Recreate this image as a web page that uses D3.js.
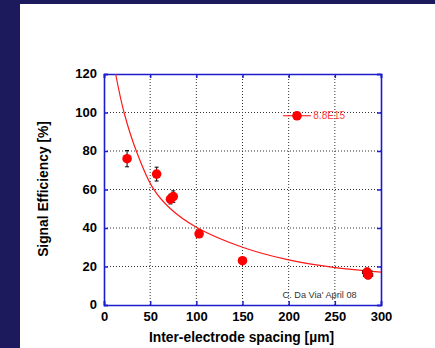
<!DOCTYPE html>
<html><head><meta charset="utf-8">
<script src="https://cdn.jsdelivr.net/npm/d3@7"></script>
<style>html,body{margin:0;padding:0;background:#1c1a5c;}svg{display:block;}</style>
</head><body>
<script>
// ---- data ----
const spacing    = [25, 57, 72, 75, 103, 150, 285, 286];
const efficiency = [76, 68, 55, 56.3, 37, 23, 17.1, 15.6];
const errY       = [4.2, 3.6, 2.5, 3, 1, 1, 2, 2];
const errX       = [0, 0, 0, 0, 0, 0, 5, 5];
const fitX = [12.6, 21.7, 35, 52.7, 72, 100, 150, 200, 250, 300];
const fitY = [120, 100, 80, 61, 50, 40.4, 30, 23.4, 19.4, 17.1];
const xTicks = [0, 50, 100, 150, 200, 250, 300];
const yTicks = [0, 20, 40, 60, 80, 100, 120];
const legendX = 209, legendY = 98.3, legendErrX = 15, legendLabel = "8.8E15";
const xTitle = "Inter-electrode spacing [\u00B5m]";
const yTitle = "Signal Efficiency [%]";
const credit = "C. Da Via' April 08";

const W = 435, H = 348;
const svg = d3.select("body").append("svg").attr("width", W).attr("height", H);
svg.append("rect").attr("width", W).attr("height", H).attr("fill", "#1c1a5c");
svg.append("rect").attr("x", 20).attr("y", 4).attr("width", W - 20).attr("height", H - 4).attr("fill", "#ffffff");

const x = d3.scaleLinear().domain([0, 300]).range([104, 381]);
const y = d3.scaleLinear().domain([0, 120]).range([305, 74]);
const font = "'Liberation Sans', Arial, sans-serif";
const blue = "#1c1ccc";

// grid
const grid = svg.append("g");
grid.selectAll(".gx").data(xTicks.slice(1, -1)).join("line")
  .attr("x1", d => x(d)).attr("x2", d => x(d)).attr("y1", y(0)).attr("y2", y(120))
  .attr("stroke", "#333").attr("stroke-width", 1).attr("stroke-dasharray", "1,2");
grid.selectAll(".gy").data(yTicks.slice(1, -1)).join("line")
  .attr("y1", d => y(d)).attr("y2", d => y(d)).attr("x1", x(0)).attr("x2", x(300))
  .attr("stroke", "#333").attr("stroke-width", 1).attr("stroke-dasharray", "1,2");

// axes (ticks inward)
const tl = 4;
const axB = svg.append("g").attr("transform", `translate(0,${y(0)})`)
  .call(d3.axisBottom(x).tickValues(xTicks).tickSize(-tl).tickPadding(6).tickFormat(d3.format("d")));
const axT = svg.append("g").attr("transform", `translate(0,${y(120)})`)
  .call(d3.axisTop(x).tickValues(xTicks).tickSize(-tl).tickFormat(""));
const axL = svg.append("g").attr("transform", `translate(${x(0)},0)`)
  .call(d3.axisLeft(y).tickValues(yTicks).tickSize(-tl).tickPadding(7).tickFormat(d3.format("d")));
const axR = svg.append("g").attr("transform", `translate(${x(300)},0)`)
  .call(d3.axisRight(y).tickValues(yTicks).tickSize(-tl).tickFormat(""));
[axB, axT, axL, axR].forEach(a => {
  a.select(".domain").attr("stroke", blue).attr("stroke-width", 1.6);
  a.selectAll(".tick line").attr("stroke", blue).attr("stroke-width", 1.5);
  a.selectAll("text").attr("fill", "#000").attr("font-family", font)
    .attr("font-weight", "bold").attr("font-size", 13);
});
axB.selectAll(".tick text").attr("dy", null).attr("y", 15.5);
axL.selectAll(".tick text").attr("dy", null).attr("y", 3.5).attr("x", -7);

// fit curve
const fit = fitX.map((d, i) => [d, fitY[i]]);
svg.append("path").datum(fit)
  .attr("d", d3.line().x(d => x(d[0])).y(d => y(d[1])).curve(d3.curveCatmullRom.alpha(0.5)))
  .attr("fill", "none").attr("stroke", "#ff1a1a").attr("stroke-width", 1.2);

// error bars
const pts = spacing.map((d, i) => ({x: d, y: efficiency[i], ey: errY[i], ex: errX[i]}));
const eb = svg.append("g").attr("stroke", "#000").attr("stroke-width", 1);
pts.forEach(p => {
  if (p.ey > 0) {
    eb.append("line").attr("x1", x(p.x)).attr("x2", x(p.x)).attr("y1", y(p.y - p.ey)).attr("y2", y(p.y + p.ey));
    [p.y - p.ey, p.y + p.ey].forEach(v => eb.append("line")
      .attr("x1", x(p.x) - 2).attr("x2", x(p.x) + 2).attr("y1", y(v)).attr("y2", y(v)));
  }
  if (p.ex > 0) {
    eb.append("line").attr("x1", x(p.x - p.ex)).attr("x2", x(p.x + p.ex)).attr("y1", y(p.y)).attr("y2", y(p.y));
    [p.x - p.ex, p.x + p.ex].forEach(v => eb.append("line")
      .attr("x1", x(v)).attr("x2", x(v)).attr("y1", y(p.y) - 2).attr("y2", y(p.y) + 2));
  }
});
svg.append("g").selectAll("circle").data(pts).join("circle")
  .attr("cx", d => x(d.x)).attr("cy", d => y(d.y)).attr("r", 4.8).attr("fill", "#ff0000");

// legend
svg.append("line").attr("x1", x(legendX - legendErrX)).attr("x2", x(legendX + legendErrX))
  .attr("y1", y(legendY)).attr("y2", y(legendY)).attr("stroke", "#ff0000").attr("stroke-width", 1);
svg.append("circle").attr("cx", x(legendX)).attr("cy", y(legendY)).attr("r", 4.8).attr("fill", "#ff0000");
svg.append("text").attr("x", x(legendX + legendErrX) + 2.5).attr("y", y(legendY) + 3.5)
  .attr("fill", "#ff3b3b").attr("font-family", font).attr("font-size", 10).text(legendLabel);

// credit
svg.append("text").attr("x", 282.5).attr("y", 297.5).attr("fill", "#333")
  .attr("font-family", font).attr("font-size", 9.2).text(credit);

// titles
svg.append("text").attr("x", 241.5).attr("y", 341.5).attr("text-anchor", "middle")
  .attr("font-family", font).attr("font-weight", "bold").attr("font-size", 13.8).attr("fill", "#000").text(xTitle);
svg.append("text").attr("transform", "translate(47.6,189) rotate(-90)").attr("text-anchor", "middle")
  .attr("font-family", font).attr("font-weight", "bold").attr("font-size", 13.8).attr("fill", "#000").text(yTitle);
</script>
</body></html>
